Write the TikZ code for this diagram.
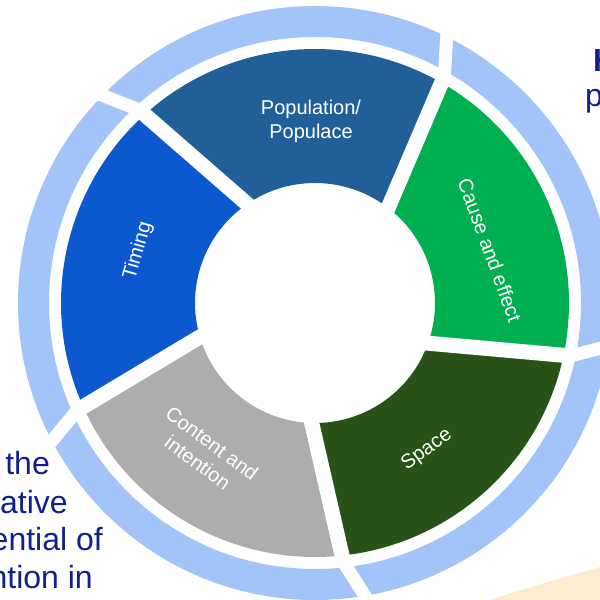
\documentclass[tikz,border=0pt]{standalone}
\usepackage{fontspec}
\setmainfont{Liberation Sans}
\definecolor{ringblue}{RGB}{162,196,248}
\definecolor{popblue}{RGB}{33,95,153}
\definecolor{timeblue}{RGB}{12,89,207}
\definecolor{causegreen}{RGB}{0,176,80}
\definecolor{spacegreen}{RGB}{41,82,25}
\definecolor{contentgray}{RGB}{173,173,173}
\definecolor{beigebg}{RGB}{253,235,208}
\definecolor{navytext}{RGB}{16,32,140}
\begin{document}
\begin{tikzpicture}[x=1pt,y=1pt,
  seglabel/.style={text=white, font=\fontsize{20}{24}\selectfont, align=center, inner sep=0pt},
  sidetext/.style={text=navytext, font=\fontsize{32}{38}\selectfont, inner sep=0pt},
  gapline/.style={white, line width=15pt},
  ringgap/.style={white, line width=13pt}]
\useasboundingbox (0,0) rectangle (600,600);
\clip (0,0) rectangle (600,600);
\fill[beigebg] (490,0) .. controls (530,13) and (565,23) .. (600,33) -- (600,0) -- cycle;
\begin{scope}[shift={(315,297)}]
  \fill[ringblue, even odd rule] (0,0) circle[radius=297] (0,0) circle[radius=266];
  \def\rin{120}
  \def\rout{254}
  \foreach \col/\pa/\pb in {popblue/66.9/138.9, causegreen/-5.1/66.9, spacegreen/-77.1/-5.1, contentgray/-149.1/-77.1, timeblue/138.9/210.9}{
    \pgfmathsetmacro\ai{\pa-asin(30/\rin)}
    \pgfmathsetmacro\ao{\pa-asin(30/\rout)}
    \pgfmathsetmacro\bi{\pb-asin(30/\rin)}
    \pgfmathsetmacro\bo{\pb-asin(30/\rout)}
    \fill[\col] (\ai:\rin) -- (\ao:\rout) arc[start angle=\ao, end angle=\bo, radius=\rout] -- (\bi:\rin) arc[start angle=\bi, end angle=\ai, radius=\rin] -- cycle;
  }
  \foreach \p in {138.9,66.9,-5.1,-77.1,-149.1}{
    \pgfmathsetmacro\gi{\p-asin(30/105)}
    \pgfmathsetmacro\go{\p-asin(30/261)}
    \pgfmathsetmacro\ro{\go+4}
    \draw[gapline] (\gi:105) -- (\go:261);
    \draw[ringgap] (\go:261) -- (\ro:305);
  }
\end{scope}
\node[seglabel] (pop) at (311,479) {Population/\\Populace};
\node[seglabel, rotate=74] (timing) at (138,349) {Timing};
\node[seglabel, rotate=-70] (cause) at (490,350) {Cause and effect};
\node[seglabel, rotate=36] (space) at (427,150) {Space};
\node[seglabel, rotate=-36.5] (content) at (205,147) {Content and\\intention};
\node[sidetext, anchor=base east] (t1) at (50,125) {the};
\node[sidetext, anchor=base east] (t2) at (68,86.7) {native};
\node[sidetext, anchor=base east] (t3) at (103,49.3) {ential of};
\node[sidetext, anchor=base east] (t4) at (93,11.7) {ntion in};
\node[sidetext, anchor=base west, font={\fontsize{32}{38}\selectfont\bfseries}] (h) at (593,528) {H};
\node[sidetext, anchor=base west] (p) at (585,493) {p};
\end{tikzpicture}
\end{document}
